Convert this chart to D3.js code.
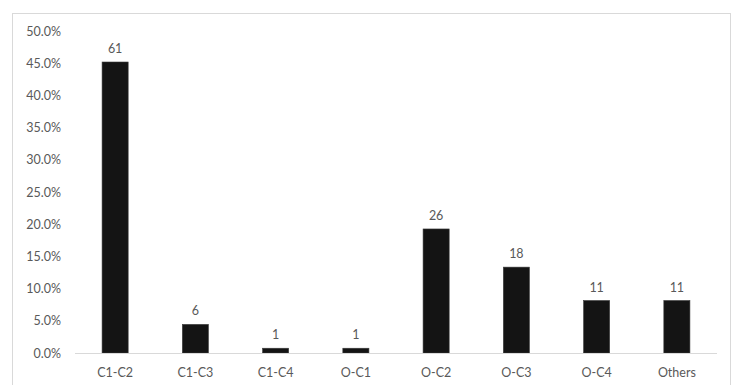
<!DOCTYPE html>
<html>
<head>
<meta charset="utf-8">
<script src="https://cdn.jsdelivr.net/npm/d3@7"></script>
<style>
  html, body { margin: 0; padding: 0; background: #fff; }
  svg { display: block; }
  text { font-family: Lato, "Open Sans", sans-serif; fill: #595959; }
</style>
</head>
<body>
<svg id="chart" width="732" height="385"></svg>
<script>
// Pair categories and their counts
const categories = ["C1-C2", "C1-C3", "C1-C4", "O-C1", "O-C2", "O-C3", "O-C4", "Others"];
const counts = [61, 6, 1, 1, 26, 18, 11, 11];
const yTicks = [0, 0.05, 0.10, 0.15, 0.20, 0.25, 0.30, 0.35, 0.40, 0.45, 0.50];

const total = d3.sum(counts);
const data = categories.map((c, i) => ({ cat: c, count: counts[i], share: counts[i] / total }));

const svg = d3.select("#chart");
const W = 732, H = 385;

// chart area frame
svg.append("rect")
  .attr("x", 12.5).attr("y", 13.5)
  .attr("width", 718).attr("height", 380)
  .attr("fill", "#fff")
  .attr("stroke", "#d9d9d9")
  .attr("stroke-width", 1);

const x = d3.scaleBand()
  .domain(categories)
  .range([75, 717])
  .paddingInner(0.675)
  .paddingOuter(0.3375);

const y = d3.scaleLinear()
  .domain([0, 0.5])
  .range([353, 31]);

// y axis labels (no axis line)
const yAxis = d3.axisLeft(y)
  .tickValues(yTicks)
  .tickFormat(d3.format(".1%"))
  .tickSize(0)
  .tickPadding(0);

svg.append("g")
  .attr("transform", "translate(61,0)")
  .call(yAxis)
  .call(g => g.select(".domain").remove())
  .selectAll("text")
  .attr("font-size", 12.5)
  .style("font-family", "Lato, 'Open Sans', sans-serif")
  .attr("fill", "#595959");

// bars
svg.append("g")
  .selectAll("rect")
  .data(data)
  .join("rect")
  .attr("x", d => x(d.cat))
  .attr("y", d => y(d.share))
  .attr("width", x.bandwidth())
  .attr("height", d => y(0) - y(d.share))
  .attr("fill", "#141414")
  .attr("stroke", "#3a3a3a")
  .attr("stroke-width", 0.6);

// baseline
svg.append("line")
  .attr("x1", 75).attr("x2", 717)
  .attr("y1", y(0) + 0.5).attr("y2", y(0) + 0.5)
  .attr("stroke", "#d9d9d9")
  .attr("stroke-width", 1);

// count labels above bars
svg.append("g")
  .selectAll("text")
  .data(data)
  .join("text")
  .attr("x", d => x(d.cat) + x.bandwidth() / 2)
  .attr("y", d => y(d.share) - 9)
  .attr("text-anchor", "middle")
  .attr("font-size", 12.5)
  .text(d => d.count);

// x axis labels
const xAxis = d3.axisBottom(x).tickSize(0).tickPadding(0);
svg.append("g")
  .attr("transform", `translate(0,${y(0) + 24})`)
  .call(xAxis)
  .call(g => g.select(".domain").remove())
  .selectAll("text")
  .attr("dy", 0)
  .attr("font-size", 12.5)
  .style("font-family", "Lato, 'Open Sans', sans-serif")
  .attr("fill", "#595959");
</script>
</body>
</html>
